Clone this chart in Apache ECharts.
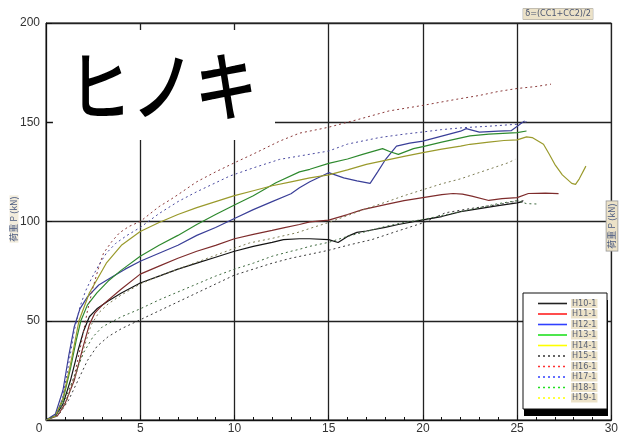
<!DOCTYPE html>
<html><head><meta charset="utf-8">
<script src="https://cdn.jsdelivr.net/npm/echarts@6/dist/echarts.min.js"></script>
<style>html,body{margin:0;padding:0;background:#fff}#c{width:621px;height:435px}</style>
</head><body><div id="c"></div>
<script>
const titleText = 'ヒノキ';
const yName = '荷重 P (kN)';
const note = 'δ=(CC1+CC2)/2';
const seriesNames = ['H10-1','H11-1','H12-1','H13-1','H14-1','H15-1','H16-1','H17-1','H18-1','H19-1'];

const h10 = [[0,0],[0.5,2],[0.9,8],[1.3,20],[1.7,35],[2.0,45],[2.3,52],[2.7,56],[3.3,60],[4,64],[5,69],[6,72.5],[7,76],[8,79],[9,82],[10,85],[11,87.5],[12,89.5],[12.6,90.9],[13.45,91.3],[14,91.3],[15,90.9],[15.5,89.4],[16,92.5],[16.5,94.5],[17,95.2],[18,97],[18.7,98.5],[20,100.8],[21,102.5],[22,105],[23,106.5],[24,108],[25,109.4],[25.3,110]];
const h11 = [[0,0],[0.6,2],[1.0,8],[1.5,20],[2.0,38],[2.3,48],[2.6,54],[3,58],[4,66],[5,73.5],[6,77.5],[7,81.5],[8,85],[9,88],[10,91.3],[11,93.5],[12,95.5],[12.6,96.8],[13.45,98.5],[14,99.8],[15,100.7],[16,103.5],[16.8,106],[18,108.5],[19,110.5],[20,112],[21,113.5],[21.6,114.1],[22.1,113.8],[22.6,112.8],[23.5,110.6],[24.2,111.5],[25,112],[25.6,114.1],[26.5,114.3],[27.2,114]];
const h12 = [[0,0],[0.5,3],[0.9,15],[1.2,32],[1.5,47],[1.8,56],[2.2,62],[2.8,68],[3.5,72],[4.2,76],[5,80],[6,84],[7,88],[8,93],[9,97],[10,101.5],[11,106],[12,110],[13,114],[13.45,117],[14,120],[15,124.6],[15.8,122],[16.5,120.5],[17.2,119.2],[17.6,125],[18,131],[18.6,138],[19.3,139.5],[20,140.5],[21,143],[22,145.5],[22.3,146.8],[23,145],[24,145.5],[24.7,145.8],[25.4,150.7]];
const h13 = [[0,0],[0.5,2],[0.9,10],[1.3,26],[1.6,40],[1.85,50],[2.2,58],[2.7,64],[3.3,70],[4,75.5],[5,82.5],[6,88],[7,93],[8,98.5],[9,103.5],[10,108.3],[11,113],[12.2,119.5],[13.45,125],[14,126.3],[15,129.3],[16,131.5],[16.8,133.8],[17.86,136.7],[18.3,135],[18.7,133.8],[19.5,136.7],[20,137.7],[21,140],[22.5,143.1],[23.5,144],[25,144.8],[25.5,145.6]];
const h14 = [[0,0],[0.5,2],[0.9,11],[1.3,28],[1.75,50],[2.3,64],[3.2,79],[4,88],[5,95],[6,99.5],[7,103.5],[8,107],[9,110],[10,113],[11,115.5],[12,118],[13,120],[14,122],[15,123.5],[16,126],[17,128.8],[18,130.8],[19,132.8],[20,134.7],[21,136.5],[22,138],[22.5,138.9],[23.5,140],[24.3,140.8],[25,141.1],[25.5,142.6],[25.8,142.3],[26.4,138.9],[26.7,134],[27,128.8],[27.4,123.5],[27.9,119.2],[28.1,118.7],[28.3,121.5],[28.65,127.9]];
const h15 = [[0,0],[0.7,3],[1.2,10],[1.7,20],[2.2,30],[2.7,37],[3.3,42],[4,46],[5,50.5],[6,55],[7,59.5],[8,64],[9,68.5],[10,73],[11,76],[12,79],[13,81.5],[14,83.5],[15,85.5],[16,88],[17.3,90.9],[18.6,95],[20,99.3],[21.2,104.4],[22.5,106.5],[24,108.5],[25,110.3],[25.4,110.5]];
const h16 = [[0,0],[0.7,3],[1.1,10],[1.5,22],[1.9,40],[2.2,55],[2.5,67],[2.8,77],[3.05,84],[3.5,90],[3.9,94.3],[4.4,97.5],[5,100],[6,107.5],[6.6,111],[7,113.5],[8,120],[9,125],[10,129.6],[11,134],[12.4,140.5],[13.45,144.5],[14.5,146.5],[15,147.5],[16.6,151.5],[18.2,155.7],[20,158.5],[21.8,161.6],[23,163.5],[24,165.5],[25,167],[26,168],[26.8,169.2]];
const h17 = [[0,0],[0.6,3],[0.9,12],[1.2,28],[1.5,45],[1.8,57],[2.1,65],[2.4,71],[2.8,78],[3.2,84],[3.7,89],[4.3,93],[5,97],[6,104],[7,110],[8,115],[9,119.5],[9.75,122.9],[11,127],[12.4,131.3],[13.45,133],[15,135.5],[16,139],[17.7,142.3],[19,144],[20,145.1],[21,146.3],[22.2,147.3],[23.5,148],[25,149],[25.6,150.5]];
const h18 = [[0,0],[0.6,3],[1.0,10],[1.5,22],[2.0,34],[2.5,42],[3,47],[4,52],[5,56],[6,60.5],[7,64.5],[8,68.5],[9,72.5],[10,76],[11,79],[12,82.5],[13,85],[13.45,86],[14,87.5],[15,89.5],[16,92.5],[17,95],[18,97.5],[19,99.5],[20,101],[21,103],[22,105],[23,107],[24,109],[25,110.5],[25.5,109],[26.1,108.8]];
const h19 = [[0,0],[0.6,2],[1.0,8],[1.5,20],[2.0,36],[2.4,48],[2.8,54],[3.3,58.5],[4,63],[5,68.5],[6,72.5],[7,76],[8,79.5],[9,83],[10,86.5],[10.8,89.2],[12,91.5],[13.3,94.3],[14,96.5],[15,99.5],[16,103],[17,106.5],[18.2,110.3],[19,113],[20,116],[21,119],[22,121.5],[23.5,126.3],[24.5,129.5],[24.9,131.3]];
const seriesData = [h10,h11,h12,h13,h14,h15,h16,h17,h18,h19];

const lineColors = ['#151515','#7e2c2c','#3a3f98','#2f8a2f','#9a9a2c','#3a3a3a','#8b3a3a','#4a4aa0','#3f6a3f','#7d7d55'];
const legendColors = ['#222','#ff2020','#3040ff','#20e020','#ffff00','#333','#ff3030','#3040ff','#20e020','#ffff00'];

const chart = echarts.init(document.getElementById('c'), null, {renderer:'canvas'});
const series = seriesNames.map((n,i)=>({
  name:n, type:'line', data:seriesData[i], symbol:'none', smooth:false, z:3,
  lineStyle:{color:lineColors[i], width: i<5?1.2:1, type: i<5?'solid':[2,3]},
  itemStyle:{color:lineColors[i]}
}));

// legend drawn as graphic elements (box layout constants)
const LX = 523, LY = 293, LW = 84, LH = 116, ROW0 = 303.5, ROWH = 10.5;
const legendEls = [
  {type:'rect',z:6,shape:{x:LX+1,y:LY+7,width:LW,height:LH},style:{fill:'#000'}},
  {type:'rect',z:6,shape:{x:LX,y:LY,width:LW,height:LH},style:{fill:'#fff',stroke:'#111',lineWidth:1}}
];
seriesNames.forEach((n,i)=>{
  const cy = ROW0 + i*ROWH;
  legendEls.push({type:'line',z:7,shape:{x1:LX+15,y1:cy,x2:LX+44,y2:cy},
    style:{stroke:legendColors[i],lineWidth:1.6,lineDash: i<5?null:[2,3]}});
  legendEls.push({type:'text',z:7,x:LX+48,y:cy,style:{text:n,
    font:"9px 'Liberation Sans Narrow','DejaVu Sans Condensed',sans-serif",
    fill:'#5a6275',backgroundColor:'#ece2c8',padding:[0,1],verticalAlign:'middle',align:'left'}});
});

chart.setOption({
  animation:false,
  backgroundColor:'#fff',
  grid:{left:46,right:8,top:23,bottom:15,show:true,borderColor:'#111',borderWidth:1,backgroundColor:'transparent'},
  xAxis:{type:'value',min:0,max:30,interval:5,
    axisLine:{lineStyle:{color:'#111'}},
    axisTick:{inside:true,length:5,lineStyle:{color:'#111'}},
    minorTick:{show:true,splitNumber:5,length:3,lineStyle:{color:'#111'}},
    splitLine:{show:true,lineStyle:{color:'#222',width:1.3}},
    axisLabel:{color:'#333',fontSize:12,fontFamily:'Liberation Sans',margin:3,
      formatter:v=> v===0 ? '{z|0}' : String(v),
      rich:{z:{color:'#333',fontSize:12,fontFamily:'Liberation Sans',padding:[0,14,0,0]}}}
  },
  yAxis:{type:'value',min:0,max:200,interval:50,
    axisLine:{show:true,lineStyle:{color:'#111'}},
    axisTick:{show:true,inside:true,length:6,lineStyle:{color:'#111'}},
    splitLine:{show:true,lineStyle:{color:'#222',width:1.3}},
    axisLabel:{color:'#333',fontSize:12,fontFamily:'Liberation Sans',margin:6,showMinLabel:false}
  },
  graphic:[
    {type:'rect',z:1,shape:{x:53,y:30,width:222,height:110},style:{fill:'#fff'}},
    {type:'text',z:5,x:163,y:86,scaleX:0.83,style:{text:titleText,font:"500 76px 'Noto Sans CJK JP'",fill:'#000',align:'center',verticalAlign:'middle'}},
    {type:'text',z:5,x:558,y:14,style:{text:note,font:"9px 'Liberation Sans Narrow','DejaVu Sans Condensed',sans-serif",fill:'#4a5570',backgroundColor:'#ece2c8',borderColor:'#999',borderWidth:0.5,padding:[1,2],align:'center',verticalAlign:'middle'}},
    {type:'text',z:5,x:14,y:219,rotation:Math.PI/2,style:{text:yName,font:"9px 'Noto Sans CJK JP'",fill:'#4a5a80',backgroundColor:'#f2ecdc',padding:[0,1],align:'center',verticalAlign:'middle'}},
    {type:'text',z:5,x:612,y:226,rotation:Math.PI/2,style:{text:yName,font:"9px 'Noto Sans CJK JP'",fill:'#4a5a80',backgroundColor:'#ece2c8',borderColor:'#999',borderWidth:0.8,padding:[1,2],align:'center',verticalAlign:'middle'}}
  ].concat(legendEls),
  series:series
});
</script></body></html>
